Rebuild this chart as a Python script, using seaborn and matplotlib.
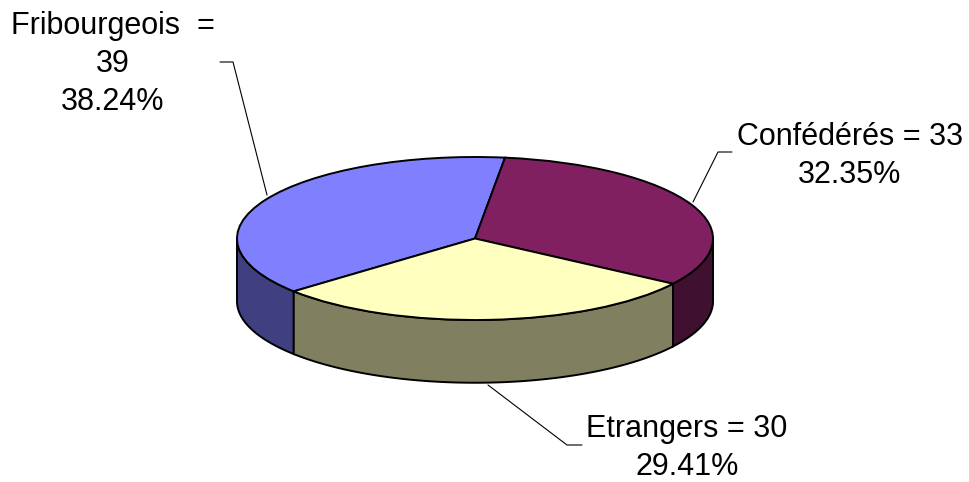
import matplotlib
matplotlib.use('Agg')
import matplotlib.pyplot as plt
import seaborn as sns
import numpy as np

# data
categories = ['Fribourgeois', 'Confédérés', 'Etrangers']
counts = [39, 33, 30]
top_colors = ['#8080FF', '#802060', '#FFFFC0']
side_colors = ['#404080', '#401030', '#808060']

START_ANGLE = 220.4
DEPTH = 0.77
EDGE_W = 1.4

sns.set_theme(style='white')
plt.rcParams['font.family'] = ['Liberation Sans', 'DejaVu Sans']

fig = plt.figure(figsize=(9.7, 4.82), dpi=100)
fig.patch.set_facecolor('white')

# pie axes: x -1..1 -> px 237..713, y 1 -> px 157, y -1 -> px 320
ax = fig.add_axes([237 / 970, (482 - 385.2) / 482, 476 / 970, (385.2 - 157) / 482])
wedges, _ = ax.pie(counts, startangle=START_ANGLE, counterclock=False,
                   colors=top_colors,
                   wedgeprops=dict(edgecolor='black', linewidth=EDGE_W, zorder=3))
ax.set_aspect('auto')
ax.set_xlim(-1, 1)
ax.set_ylim(-1 - 0.8, 1)
ax.axis('off')

# front walls of the 3d pie
for w, col in zip(wedges, side_colors):
    for shift in (-360, 0, 360):
        a = max(w.theta1 + shift, 180)
        b = min(w.theta2 + shift, 360)
        if b <= a:
            continue
        t = np.radians(np.linspace(a, b, 80))
        xs = np.concatenate([np.cos(t), np.cos(t[::-1])])
        ys = np.concatenate([np.sin(t), np.sin(t[::-1]) - DEPTH])
        ax.fill(xs, ys, facecolor=col, edgecolor='black', linewidth=EDGE_W,
                zorder=2, clip_on=False)

# overlay in pixel coords for labels and leader lines
ov = fig.add_axes([0, 0, 1, 1], facecolor='none')
ov.set_xlim(0, 970)
ov.set_ylim(482, 0)
ov.axis('off')

total = sum(counts)
pcts = [c / total * 100 for c in counts]
labels = [
    f'{categories[0]}  =\n{counts[0]}\n{pcts[0]:.2f}%',
    f'{categories[1]} = {counts[1]}\n{pcts[1]:.2f}%',
    f'{categories[2]} = {counts[2]}\n{pcts[2]:.2f}%',
]
label_pos = [(113, 64), (850, 156), (687, 448)]
leaders = [
    [(220, 62), (233, 62), (267, 195)],
    [(693, 202), (718, 152), (732, 152)],
    [(488, 385), (567, 445), (582, 445)],
]

for txt, (x, y), pts in zip(labels, label_pos, leaders):
    ov.text(x, y, txt, ha='center', va='center', multialignment='center',
            fontsize=22, linespacing=1.33, color='black')
    px, py = zip(*pts)
    ov.plot(px, py, color='black', linewidth=0.8)

fig.savefig('out.png', dpi=100, facecolor='white')
